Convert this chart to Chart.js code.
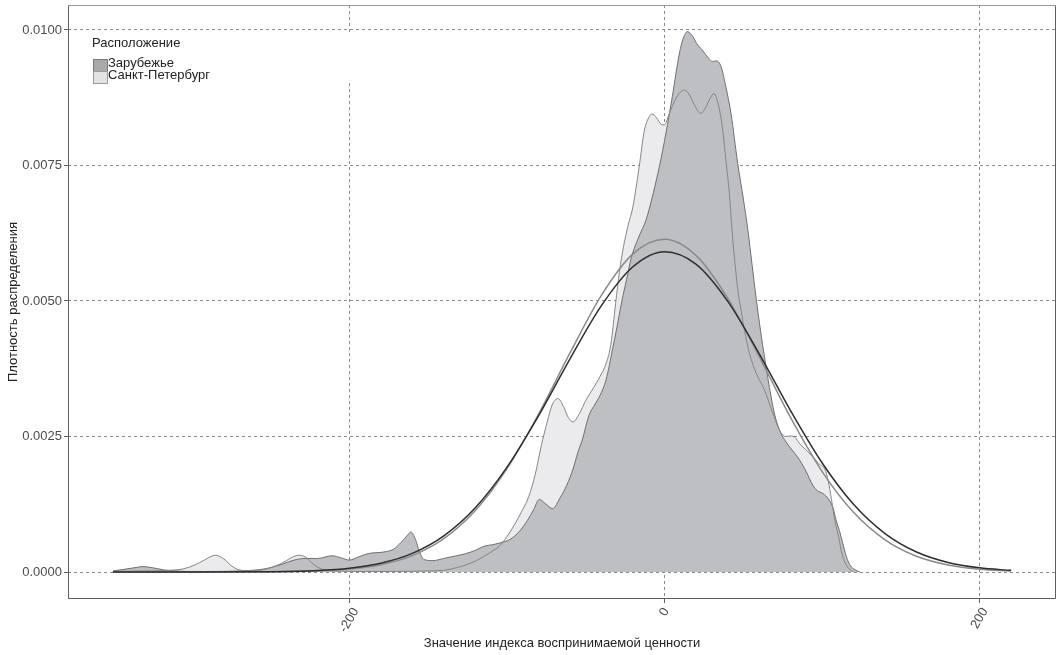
<!DOCTYPE html>
<html><head><meta charset="utf-8">
<script src="https://cdn.jsdelivr.net/npm/chart.js@4.4.1/dist/chart.umd.min.js"></script>
<style>
html,body{margin:0;padding:0;background:#fff;}
#wrap{position:relative;width:1060px;height:655px;}
#legend{position:absolute;left:71px;top:32px;width:285px;height:51px;background:#fff;font-family:'Liberation Sans',Arial,sans-serif;font-size:13px;color:#222;line-height:13px;}
#legend div{position:absolute;white-space:nowrap;}
.key{width:13px;height:11px;}
</style></head><body>
<div id="wrap"><canvas id="c" width="1060" height="655"></canvas>
<div id="legend">
 <div style="left:21px;top:4px;">Расположение</div>
 <div class="key" style="left:22px;top:27px;background:#a9a9ab;border:1px solid #7a7a7a;"></div>
 <div style="left:37px;top:24px;">Зарубежье</div>
 <div class="key" style="left:22px;top:39px;background:#e3e3e4;border:1px solid #9a9a9a;"></div>
 <div style="left:37px;top:36px;">Санкт-Петербург</div>
</div></div>
<script>
// ---- data ----
const seriesNames = ['Зарубежье', 'Санкт-Петербург'];
const xTicks = [-200, 0, 200];
const yTicks = [0, 0.0025, 0.005, 0.0075, 0.01];

const zarX = [-350,-343,-336,-331,-325,-318,-310,-300,-285,-270,-258,-250,-242,-235,-228,-220,-211,-205,-200,-194,-188,-178,-172,-167,-163,-160.8,-158,-155.5,-152.5,-147,-140,-132,-126,-120,-115,-108,-104,-98,-92,-87,-83,-79.4,-75.5,-71,-66,-62,-58,-55,-52,-48,-44,-41,-37,-33,-30.5,-27,-24,-21,-16,-11.6,-7,-3.2,1,5,9.5,12,14.5,18,20.5,24,28,30.5,33,36,39,42.3,46.5,50,53,55.5,58.2,61,63.5,67.7,70,73,76,79.4,85.7,90,94.2,97,100.5,104,107,109,111,113,115.5,118,121,124];
const zarY = [0.00002,0.00005,0.00008,0.00010,0.00008,0.00004,0.00002,0.00001,0.00001,0.00002,0.00004,0.00008,0.00015,0.00022,0.00025,0.00025,0.00030,0.00026,0.00022,0.00028,0.00034,0.00037,0.00042,0.00055,0.00068,0.00074,0.00060,0.00038,0.00023,0.00021,0.00025,0.00030,0.00034,0.00040,0.00047,0.00051,0.00054,0.00060,0.00075,0.00095,0.00115,0.00134,0.00126,0.00117,0.00138,0.00160,0.00190,0.00220,0.00245,0.00288,0.00310,0.00325,0.00355,0.00410,0.00446,0.00500,0.00540,0.00580,0.00620,0.00650,0.00700,0.00748,0.00810,0.00877,0.00957,0.00985,0.00997,0.00988,0.00975,0.00963,0.00948,0.00942,0.00943,0.00932,0.00895,0.00845,0.00754,0.00690,0.00630,0.00570,0.00505,0.00445,0.00397,0.00323,0.00290,0.00262,0.00245,0.00231,0.00207,0.00185,0.00160,0.00150,0.00145,0.00135,0.00118,0.00095,0.00077,0.00055,0.00028,0.00012,0.00004,0.00000];

const spbX = [-350,-330,-315,-305,-298,-292,-285,-280,-275,-270,-262,-255,-249,-243,-237,-232,-228,-223,-218,-210,-190,-170,-150,-140,-132,-126,-120,-115,-110,-105,-100,-95,-90,-86,-82,-78,-75,-71,-67.5,-64,-61,-58,-54,-50,-45,-41,-37,-34,-31,-28.5,-26,-23,-20,-16,-12.7,-10,-8,-5,-2,0,3,7,10,12.7,16,19,23,26,29,31.5,33,35,37,39,41,43.4,46.6,48.5,50.8,54,58.2,63.5,68.8,73,77,80,83,86,90,94,98,102.5,104.5,106.5,108.5,110.5,113,116,120];
const spbY = [0.00001,0.00002,0.00003,0.00006,0.00013,0.00022,0.00031,0.00025,0.00012,0.00004,0.00002,0.00004,0.00009,0.00016,0.00026,0.00031,0.00028,0.00015,0.00006,0.00002,0.00001,0.00001,0.00002,0.00003,0.00008,0.00013,0.00020,0.00028,0.00037,0.00047,0.00065,0.00088,0.00115,0.00140,0.00180,0.00235,0.00270,0.00310,0.00320,0.00305,0.00285,0.00277,0.00292,0.00316,0.00340,0.00360,0.00385,0.00420,0.00495,0.00555,0.00600,0.00640,0.00674,0.00748,0.00815,0.00838,0.00845,0.00838,0.00826,0.00825,0.00845,0.00872,0.00885,0.00889,0.00880,0.00862,0.00846,0.00856,0.00874,0.00883,0.00875,0.00852,0.00815,0.00760,0.00705,0.00613,0.00520,0.00485,0.00446,0.00403,0.00367,0.00336,0.00293,0.00262,0.00250,0.00251,0.00248,0.00236,0.00225,0.00213,0.00200,0.00185,0.00160,0.00125,0.00090,0.00065,0.00030,0.00010,0.00000];

const normX = [-350,-300,-250,-220,-200,-180,-160,-140,-120,-100,-80,-60,-40,-20,0,20,40,60,80,100,120,140,160,180,200,220];
const normDarkY = [0.0000000,0.0000003,0.0000059,0.0000278,0.0000700,0.000162,0.000343,0.000667,0.001185,0.00193,0.002877,0.003929,0.004914,0.005631,0.00591,0.005681,0.005002,0.004034,0.002979,0.002016,0.001249,0.000709,0.000369,0.000176,0.0000766,0.0000306];
const normGreyY = [0.0000000,0.0000002,0.0000039,0.0000205,0.0000553,0.0001356,0.000302,0.000614,0.001133,0.001903,0.002906,0.004038,0.005105,0.00587,0.00614,0.005842,0.005057,0.003982,0.002852,0.001858,0.001101,0.000594,0.000291,0.00013,0.0000528,0.0000195];

const zip = (xs, ys) => xs.map((x, i) => ({x: x, y: ys[i]}));
const FONT = "'Liberation Sans', Arial, sans-serif";
const X_ROT = 60;

const panelPlugin = {
  id: 'panel',
  beforeDraw(chart) {
    // centre the rotated x tick labels on their ticks
    const s = chart.scales.x;
    if (!s || typeof s._computeLabelItems !== 'function') return;
    const items = s._computeLabelItems(chart.chartArea);
    const ctx = chart.ctx;
    ctx.save();
    items.forEach(it => {
      ctx.font = it.font.string;
      const w = ctx.measureText(String(it.label)).width;
      it.options.translation[0] += (w / 2) * Math.cos(X_ROT * Math.PI / 180);
    });
    ctx.restore();
    s._labelItems = items;
  },
  afterDatasetsDraw(chart) {
    const {ctx, chartArea: a} = chart;
    ctx.save();
    ctx.lineWidth = 1;
    ctx.strokeStyle = '#999999';
    ctx.beginPath();
    ctx.moveTo(a.left + 0.5, a.top + 0.5); ctx.lineTo(a.right - 0.5, a.top + 0.5);
    ctx.stroke();
    ctx.strokeStyle = '#5e5e5e';
    ctx.beginPath();
    ctx.moveTo(a.right - 0.5, a.top + 0.5); ctx.lineTo(a.right - 0.5, a.bottom - 0.5);
    ctx.lineTo(a.left + 0.5, a.bottom - 0.5); ctx.lineTo(a.left + 0.5, a.top + 0.5);
    ctx.stroke();
    ctx.restore();
  }
};

new Chart(document.getElementById('c'), {
  type: 'line',
  data: {
    datasets: [
      {label: seriesNames[1], data: zip(spbX, spbY), fill: 'origin', backgroundColor: '#ebebed', borderColor: 'rgba(0,0,0,0)', borderWidth: 0, order: 10},
      {label: seriesNames[0], data: zip(zarX, zarY), fill: 'origin', backgroundColor: '#bebfc3', borderColor: '#6f6f6f', borderWidth: 1, order: 9},
      {label: seriesNames[1] + ' line', data: zip(spbX, spbY), fill: false, borderColor: '#858585', borderWidth: 1, order: 8},
      {label: 'norm grey', data: zip(normX, normGreyY), fill: false, borderColor: '#8a8a8a', borderWidth: 1.5, order: 7},
      {label: 'norm dark', data: zip(normX, normDarkY), fill: false, borderColor: '#2e2e2e', borderWidth: 1.5, order: 6}
    ]
  },
  options: {
    responsive: false,
    animation: false,
    devicePixelRatio: 1,
    layout: {padding: {top: 5, right: 4, left: 0, bottom: 0}},
    elements: {point: {radius: 0, hoverRadius: 0}, line: {cubicInterpolationMode: 'monotone'}},
    plugins: {legend: {display: false}, tooltip: {enabled: false}},
    scales: {
      x: {
        type: 'linear', min: -378.5, max: 248.5,
        afterBuildTicks: s => { s.ticks = xTicks.map(v => ({value: v})); },
        afterFit: s => { s.height = 56; s.paddingLeft = 0; s.paddingRight = 0; },
        grid: {color: '#8c8c8c', lineWidth: 1, tickLength: 4, tickColor: '#5e5e5e', tickWidth: 1},
        border: {display: false, dash: [3, 3]},
        ticks: {minRotation: X_ROT, maxRotation: X_ROT, labelOffset: 0, color: '#4d4d4d', font: {family: FONT, size: 13}, padding: 2, callback: v => String(v)},
        title: {display: true, text: 'Значение индекса воспринимаемой ценности', color: '#222', font: {family: FONT, size: 13}, padding: {top: 4, bottom: 4}}
      },
      y: {
        type: 'linear', min: -0.000498, max: 0.010461,
        afterBuildTicks: s => { s.ticks = yTicks.map(v => ({value: v})); },
        afterFit: s => { s.width = 68; s.paddingTop = 0; s.paddingBottom = 0; },
        grid: {color: '#8c8c8c', lineWidth: 1, tickLength: 4, tickColor: '#5e5e5e', tickWidth: 1},
        border: {display: false, dash: [3, 3]},
        ticks: {color: '#4d4d4d', font: {family: FONT, size: 13}, padding: 2, callback: v => v.toFixed(4)},
        title: {display: true, text: 'Плотность распределения', color: '#222', font: {family: FONT, size: 13}, padding: {top: 6, bottom: 4}}
      }
    }
  },
  plugins: [panelPlugin]
});
</script>
</body></html>
